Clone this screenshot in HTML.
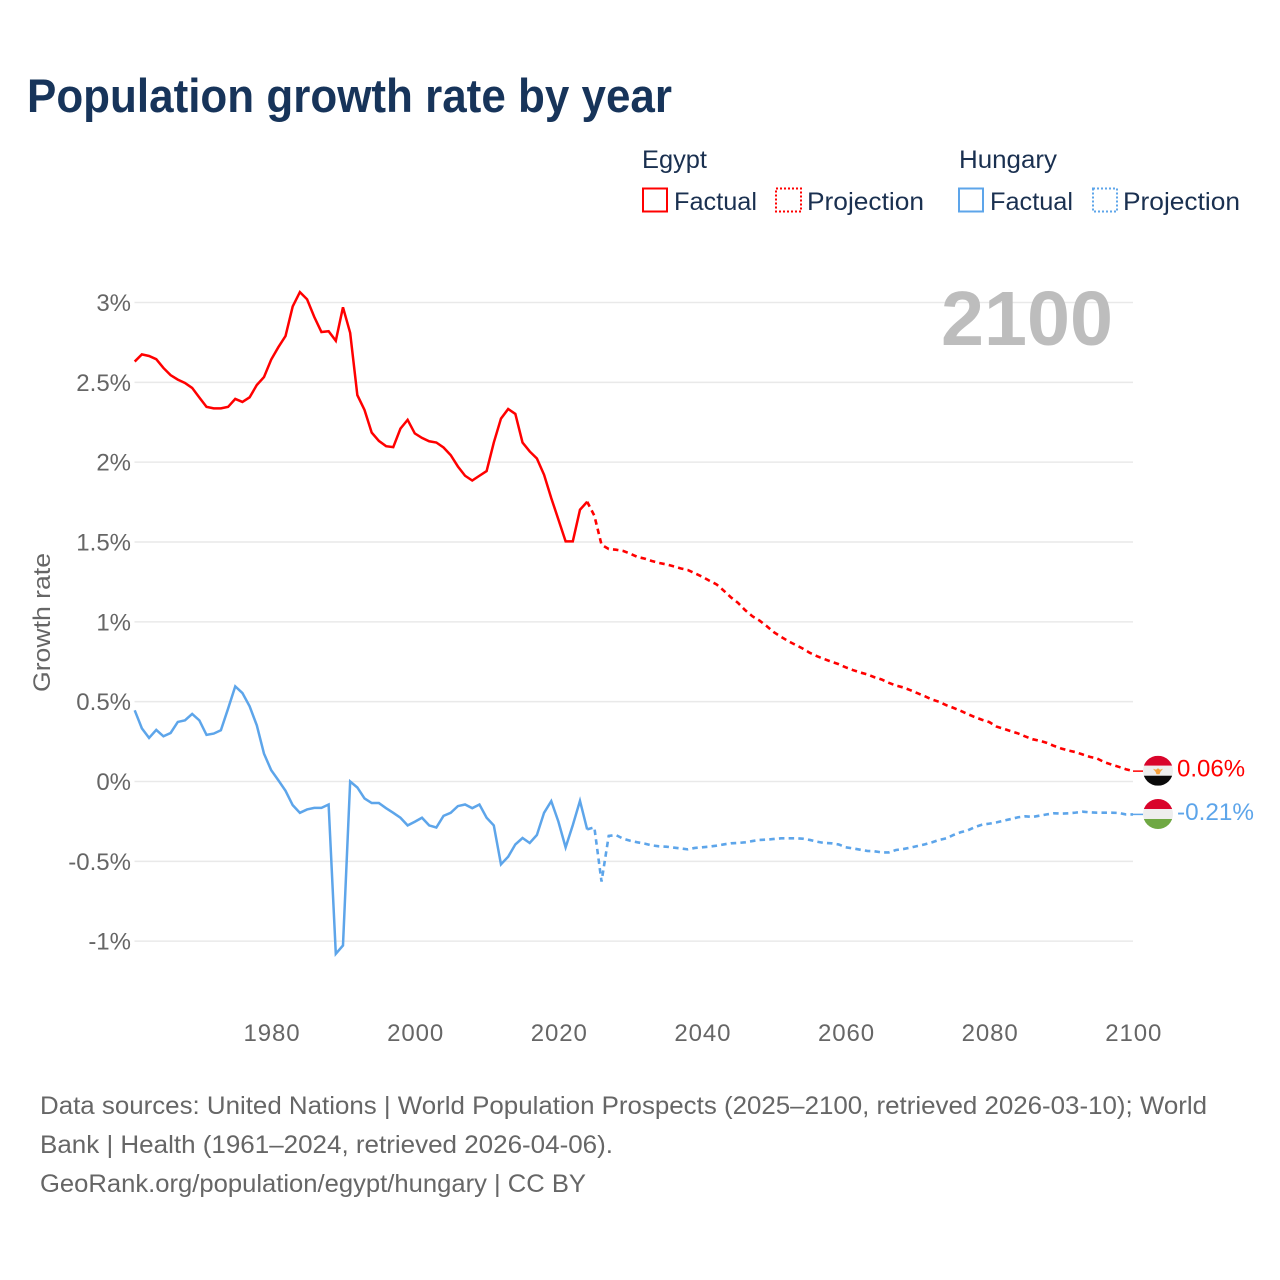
<!DOCTYPE html>
<html lang="en">
<head>
<meta charset="utf-8">
<title>Population growth rate by year</title>
<style>
  html, body { margin: 0; padding: 0; background: #fff; }
  svg { display: block; font-family: "Liberation Sans", sans-serif; }
  .legend { fill: #1a3050; font-size: 25px; }
  .foot { fill: #666; font-size: 25px; }
  .tick { fill: #666; font-size: 24px; }
</style>
</head>
<body>
<svg id="chart" width="1280" height="1280" viewBox="0 0 1280 1280" xmlns="http://www.w3.org/2000/svg">
  <defs>
    <clipPath id="flag-clip-egypt"><circle id="clip-egypt" cx="1158" cy="771" r="15"/></clipPath>
    <clipPath id="flag-clip-hungary"><circle id="clip-hungary" cx="1158" cy="814" r="15"/></clipPath>
  </defs>
  <rect width="1280" height="1280" fill="#fff"/>
  <text x="27" y="112" font-size="47" font-weight="700" fill="#17345a" textLength="645" lengthAdjust="spacingAndGlyphs">Population growth rate by year</text>

  <g>
    <text class="legend" x="642" y="168" textLength="65" lengthAdjust="spacingAndGlyphs">Egypt</text>
    <text class="legend" x="959" y="168" textLength="98" lengthAdjust="spacingAndGlyphs">Hungary</text>
    <rect x="643" y="188.5" width="24" height="23" fill="none" stroke="#ff0000" stroke-width="2"/>
    <text class="legend" x="674" y="210" textLength="83" lengthAdjust="spacingAndGlyphs">Factual</text>
    <rect x="776" y="188.5" width="25" height="23" fill="none" stroke="#ff0000" stroke-width="2" stroke-dasharray="2 2"/>
    <text class="legend" x="807" y="210" textLength="117" lengthAdjust="spacingAndGlyphs">Projection</text>
    <rect x="959" y="188.5" width="24" height="23" fill="none" stroke="#5da5ea" stroke-width="2"/>
    <text class="legend" x="990" y="210" textLength="83" lengthAdjust="spacingAndGlyphs">Factual</text>
    <rect x="1093" y="188.5" width="24" height="23" fill="none" stroke="#5da5ea" stroke-width="2" stroke-dasharray="2 2"/>
    <text class="legend" x="1123" y="210" textLength="117" lengthAdjust="spacingAndGlyphs">Projection</text>
  </g>

  <g id="grid"></g>
  <g id="y-ticks"></g>
  <g id="x-ticks"></g>
  <text class="tick" transform="translate(50,622.5) rotate(-90)" text-anchor="middle" textLength="139" lengthAdjust="spacingAndGlyphs" font-size="25">Growth rate</text>
  <text x="941" y="345" font-size="77" font-weight="700" fill="#bdbdbd" textLength="172" lengthAdjust="spacingAndGlyphs">2100</text>

  <g id="series"></g>
  <g id="flags"></g>

  <g>
    <text class="foot" x="40" y="1114" textLength="1167" lengthAdjust="spacingAndGlyphs">Data sources: United Nations | World Population Prospects (2025–2100, retrieved 2026-03-10); World</text>
    <text class="foot" x="40" y="1153" textLength="573" lengthAdjust="spacingAndGlyphs">Bank | Health (1961–2024, retrieved 2026-04-06).</text>
    <text class="foot" x="40" y="1192" textLength="546" lengthAdjust="spacingAndGlyphs">GeoRank.org/population/egypt/hungary | CC BY</text>
  </g>
</svg>
<script>
const firstFactualYear = 1961;
const firstProjectionYear = 2024;
const xTickYears = [1980, 2000, 2020, 2040, 2060, 2080, 2100];
const yTickValues = [3, 2.5, 2, 1.5, 1, 0.5, 0, -0.5, -1];
const yTickLabels = ['3%', '2.5%', '2%', '1.5%', '1%', '0.5%', '0%', '-0.5%', '-1%'];
const endLabels = ['0.06%', '-0.21%'];

const egyptFactual = [
  2.63, 2.675, 2.665, 2.645, 2.59, 2.545, 2.517, 2.496, 2.465, 2.405,
  2.346, 2.337, 2.337, 2.346, 2.396, 2.377, 2.406, 2.483, 2.533, 2.642,
  2.72, 2.79, 2.975, 3.065, 3.02, 2.91, 2.815, 2.82, 2.76, 2.97,
  2.81, 2.42, 2.327, 2.185, 2.133, 2.10, 2.094, 2.21, 2.265, 2.18,
  2.152, 2.131, 2.123, 2.092, 2.044, 1.973, 1.915, 1.885, 1.915, 1.944,
  2.123, 2.273, 2.333, 2.302, 2.123, 2.067, 2.023, 1.921, 1.775, 1.64,
  1.504, 1.504, 1.702, 1.752
];
const egyptProjection = [
  1.752, 1.665, 1.483, 1.456, 1.452, 1.444,
  1.427, 1.406, 1.396, 1.381, 1.369, 1.36, 1.348, 1.335, 1.325, 1.304,
  1.283, 1.258, 1.235, 1.196, 1.154, 1.119, 1.073, 1.035, 1.008, 0.973,
  0.935, 0.906, 0.879, 0.856, 0.833, 0.806, 0.785, 0.767, 0.75, 0.735,
  0.715, 0.698, 0.683, 0.671, 0.653, 0.639, 0.618, 0.601, 0.589, 0.572,
  0.553, 0.534, 0.514, 0.499, 0.478, 0.461, 0.443, 0.422, 0.403, 0.386,
  0.372, 0.344, 0.33, 0.315, 0.301, 0.282, 0.265, 0.255, 0.242, 0.223,
  0.207, 0.194, 0.184, 0.169, 0.154, 0.144, 0.121, 0.106, 0.092, 0.077,
  0.065
];
const hungaryFactual = [
  0.446, 0.333, 0.273, 0.323, 0.283, 0.304, 0.373, 0.383, 0.423, 0.383,
  0.292, 0.30, 0.321, 0.456, 0.596, 0.554, 0.471, 0.352, 0.175, 0.071,
  0.008, -0.058, -0.148, -0.196, -0.175, -0.165, -0.165, -0.144, -1.079, -1.027,
  0, -0.0375, -0.106, -0.135, -0.135, -0.167, -0.196, -0.227, -0.275, -0.252,
  -0.227, -0.275, -0.288, -0.215, -0.196, -0.154, -0.144, -0.167, -0.144, -0.227,
  -0.275, -0.519, -0.471, -0.394, -0.354, -0.385, -0.335, -0.196, -0.123, -0.252,
  -0.4125, -0.273, -0.121, -0.30
];
const hungaryProjection = [
  -0.30, -0.2875, -0.627, -0.341, -0.335, -0.358,
  -0.371, -0.381, -0.389, -0.40, -0.406, -0.408, -0.414, -0.419, -0.425, -0.416,
  -0.412, -0.408, -0.402, -0.394, -0.387, -0.385, -0.381, -0.373, -0.366, -0.364,
  -0.36, -0.356, -0.356, -0.356, -0.358, -0.366, -0.377, -0.385, -0.387, -0.394,
  -0.412, -0.419, -0.427, -0.435, -0.437, -0.444, -0.444, -0.429, -0.423, -0.414,
  -0.404, -0.394, -0.381, -0.366, -0.356, -0.335, -0.318, -0.306, -0.285, -0.27,
  -0.264, -0.256, -0.245, -0.235, -0.224, -0.218, -0.222, -0.214, -0.206, -0.199,
  -0.201, -0.199, -0.195, -0.189, -0.193, -0.195, -0.195, -0.195, -0.197, -0.206,
  -0.206
];

const NS = 'http://www.w3.org/2000/svg';
const RED = '#ff0000';
const BLUE = '#5da5ea';

function xScale(year) { return 134.7 + (year - 1961) * (998.3 / 139); }
function yScale(value) { return 781.5 - value * 159.67; }

function make(tag, attrs, parent) {
  const el = document.createElementNS(NS, tag);
  for (const k in attrs) el.setAttribute(k, attrs[k]);
  parent.appendChild(el);
  return el;
}
function pathFrom(values, startYear) {
  return values.map(function (v, i) {
    return (i ? 'L' : 'M') + xScale(startYear + i).toFixed(2) + ' ' + yScale(v).toFixed(2);
  }).join(' ');
}

const gridG = document.getElementById('grid');
const yTickG = document.getElementById('y-ticks');
const xTickG = document.getElementById('x-ticks');
const seriesG = document.getElementById('series');
const flagsG = document.getElementById('flags');

yTickValues.forEach(function (v, i) {
  const line = make('line', { x1: 134.5, x2: 1133, y1: yScale(v), y2: yScale(v), stroke: '#e9e9e9', 'stroke-width': 1.5 }, gridG);
  
  
  const label = make('text', { x: 131, y: yScale(v) + 8.5, 'text-anchor': 'end', class: 'tick' }, yTickG);
  
  
  label.textContent = yTickLabels[i];
});

xTickYears.forEach(function (year) {
  const label = make('text', { x: xScale(year) + 0.8, y: 1041, 'text-anchor': 'middle', class: 'tick', 'letter-spacing': '0.9' }, xTickG);
  
  
  label.textContent = String(year);
});

function solidStyle(color) {
  return { fill: 'none', stroke: color, 'stroke-width': 2.5, 'stroke-linejoin': 'miter' };
}
function dashedStyle(color) {
  return { fill: 'none', stroke: color, 'stroke-width': 2.6, 'stroke-dasharray': '5.5 4.2' };
}

const egyptFactualLine = make('path', Object.assign({ d: pathFrom(egyptFactual, firstFactualYear) }, solidStyle(RED)), seriesG);



const egyptProjectionLine = make('path', Object.assign({ d: pathFrom(egyptProjection, firstProjectionYear) }, dashedStyle(RED)), seriesG);



const hungaryFactualLine = make('path', Object.assign({ d: pathFrom(hungaryFactual, firstFactualYear) }, solidStyle(BLUE)), seriesG);



const hungaryProjectionLine = make('path', Object.assign({ d: pathFrom(hungaryProjection, firstProjectionYear) }, dashedStyle(BLUE)), seriesG);



const egyptEnd = egyptProjection[egyptProjection.length - 1];
const hungaryEnd = hungaryProjection[hungaryProjection.length - 1];
const egyptY = yScale(egyptEnd) - 0.4;
const hungaryY = yScale(hungaryEnd) - 0.4;
const flagX = 1158;
document.getElementById('clip-egypt').setAttribute('cy', egyptY);
document.getElementById('clip-hungary').setAttribute('cy', hungaryY);

const egyptConnector = make('line', { x1: 1133, x2: 1143, y1: yScale(egyptEnd), y2: yScale(egyptEnd), stroke: RED, 'stroke-width': 1.5 }, flagsG);



const hungaryConnector = make('line', { x1: 1133, x2: 1143, y1: yScale(hungaryEnd), y2: yScale(hungaryEnd), stroke: BLUE, 'stroke-width': 1.5 }, flagsG);



const egyptFlag = make('g', { 'clip-path': 'url(#flag-clip-egypt)' }, flagsG);


make('rect', { x: flagX - 15, y: egyptY - 15, width: 30, height: 10, fill: '#d9042b' }, egyptFlag);
make('rect', { x: flagX - 15, y: egyptY - 5, width: 30, height: 10, fill: '#eeeeee' }, egyptFlag);
make('rect', { x: flagX - 15, y: egyptY + 5, width: 30, height: 10, fill: '#0a0a0a' }, egyptFlag);
make('path', { d: 'M' + (flagX - 5) + ' ' + (egyptY - 2) + ' l3 1 l2 -1.5 l2 1.5 l3 -1 l-2.5 3 l-1 2.5 h-3 l-1 -2.5 z', fill: '#f6a13a' }, egyptFlag);

const hungaryFlag = make('g', { 'clip-path': 'url(#flag-clip-hungary)' }, flagsG);


make('rect', { x: flagX - 15, y: hungaryY - 15, width: 30, height: 10, fill: '#d9042b' }, hungaryFlag);
make('rect', { x: flagX - 15, y: hungaryY - 5, width: 30, height: 10, fill: '#eeeeee' }, hungaryFlag);
make('rect', { x: flagX - 15, y: hungaryY + 5, width: 30, height: 10, fill: '#6fa843' }, hungaryFlag);

const egyptLabel = make('text', { x: 1177, y: egyptY + 6, 'font-size': 24, fill: RED }, flagsG);


egyptLabel.textContent = endLabels[0];

const hungaryLabel = make('text', { x: 1177, y: hungaryY + 6, 'font-size': 24, fill: BLUE, textLength: 77, lengthAdjust: 'spacingAndGlyphs' }, flagsG);


hungaryLabel.textContent = endLabels[1];
</script>
</body>
</html>
